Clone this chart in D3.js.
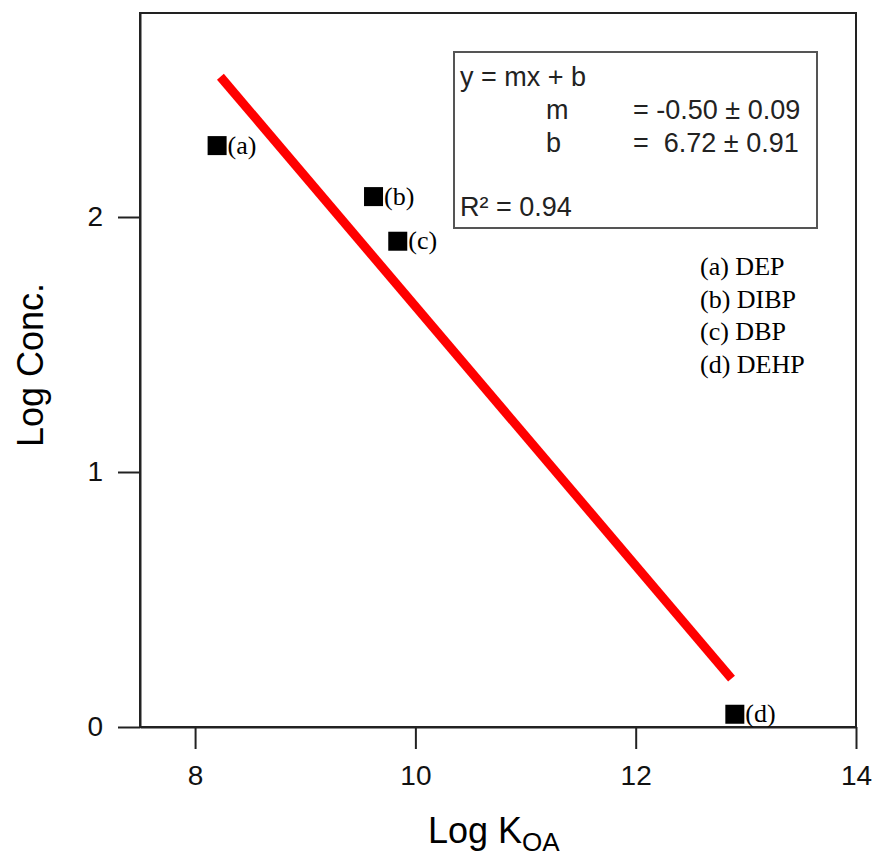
<!DOCTYPE html>
<html>
<head>
<meta charset="utf-8">
<script src="https://cdn.jsdelivr.net/npm/d3@7"></script>
<style>
  body { margin: 0; background: #fff; }
  .axis text { font-family: "Liberation Sans", Arial, sans-serif; font-size: 28px; fill: #111; }
  .axis line, .axis path { stroke: #222; stroke-width: 2px; }
</style>
</head>
<body>
<script>
// compounds and their values
var labels = ["(a)", "(b)", "(c)", "(d)"];
var names = ["DEP", "DIBP", "DBP", "DEHP"];
var logKoa = [8.2, 9.62, 9.84, 12.9];
var logConc = [2.28, 2.08, 1.905, 0.05];

// fitted line end points
var fitX = [8.23, 12.87];
var fitY = [2.55, 0.19];

var xTicks = [8, 10, 12, 14];
var yTicks = [0, 1, 2];

var fitText = ["y = mx + b", "m", "= -0.50 \u00b1 0.09", "b", "=  6.72 \u00b1 0.91", "R\u00b2 = 0.94"];

var margin = { top: 13, right: 20, bottom: 130, left: 140 }
    , width = 876 - margin.left - margin.right
    , height = 857 - margin.top - margin.bottom;

var x = d3.scaleLinear().domain([7.5, 14]).range([0, width]);
var y = d3.scaleLinear().domain([0, 2.8]).range([height, 0]);

var svg = d3.select("body").append("svg")
    .attr("width", 876)
    .attr("height", 857)
    .append("g")
    .attr("transform", "translate(" + margin.left + "," + margin.top + ")");

// frame
svg.append("rect")
    .attr("width", width).attr("height", height)
    .attr("fill", "none").attr("stroke", "#222").attr("stroke-width", 2);

svg.append("g")
    .attr("class", "axis")
    .attr("transform", "translate(0," + height + ")")
    .call(d3.axisBottom(x).tickValues(xTicks).tickSize(22).tickSizeOuter(0).tickPadding(16).tickFormat(d3.format("d")));

svg.append("g")
    .attr("class", "axis")
    .call(d3.axisLeft(y).tickValues(yTicks).tickSize(22).tickSizeOuter(0).tickPadding(15).tickFormat(d3.format("d")));

// axis titles
svg.append("text")
    .attr("transform", "translate(" + (-97) + "," + (height / 2 - 5) + ") rotate(-90)")
    .attr("text-anchor", "middle")
    .style("font-family", "Liberation Sans, Arial, sans-serif")
    .style("font-size", "36px")
    .text("Log Conc.");

var xt = svg.append("text")
    .attr("x", 288).attr("y", height + 116)
    .style("font-family", "Liberation Sans, Arial, sans-serif")
    .style("font-size", "36px");
xt.append("tspan").text("Log K");
xt.append("tspan").attr("dy", 8).style("font-size", "26px").text("OA");

// regression line
var fit = fitX.map(function (d, i) { return [d, fitY[i]]; });
svg.append("path")
    .datum(fit)
    .attr("fill", "none")
    .attr("stroke", "#ff0000")
    .attr("stroke-width", 9)
    .attr("d", d3.line().x(function (d) { return x(d[0]); }).y(function (d) { return y(d[1]); }));

// points
var pts = logKoa.map(function (d, i) { return { x: d, y: logConc[i], lab: labels[i] }; });
var sq = 19;
svg.selectAll(".pt").data(pts).enter().append("rect")
    .attr("class", "pt")
    .attr("x", function (d) { return x(d.x) - sq / 2; })
    .attr("y", function (d) { return y(d.y) - sq / 2; })
    .attr("width", sq).attr("height", sq)
    .attr("fill", "#000");

svg.selectAll(".ptlab").data(pts).enter().append("text")
    .attr("class", "ptlab")
    .attr("x", function (d) { return x(d.x) + sq / 2 + 1; })
    .attr("y", function (d) { return y(d.y) + 8; })
    .style("font-family", "Liberation Serif, Times New Roman, serif")
    .style("font-size", "26px")
    .text(function (d) { return d.lab; });

// fit box
var box = svg.append("g").attr("transform", "translate(314,39)");
box.append("rect")
    .attr("width", 363).attr("height", 176)
    .attr("fill", "#fff").attr("stroke", "#555").attr("stroke-width", 2);
var bt = box.append("g")
    .style("font-family", "Liberation Sans, Arial, sans-serif")
    .style("font-size", "27px")
    .style("fill", "#222");
bt.append("text").attr("x", 6).attr("y", 34).text(fitText[0]);
bt.append("text").attr("x", 92).attr("y", 67).text(fitText[1]);
bt.append("text").attr("x", 179).attr("y", 67).text(fitText[2]);
bt.append("text").attr("x", 92).attr("y", 100).text(fitText[3]);
bt.append("text").attr("x", 179).attr("y", 100).style("white-space", "pre").text(fitText[4]);
bt.append("text").attr("x", 6).attr("y", 164).text(fitText[5]);

// legend of compound names
svg.selectAll(".leg").data(labels).enter().append("text")
    .attr("class", "leg")
    .attr("x", 560)
    .attr("y", function (d, i) { return 262 + i * 32.5; })
    .style("font-family", "Liberation Serif, Times New Roman, serif")
    .style("font-size", "26px")
    .text(function (d, i) { return d + " " + names[i]; });
</script>
</body>
</html>
